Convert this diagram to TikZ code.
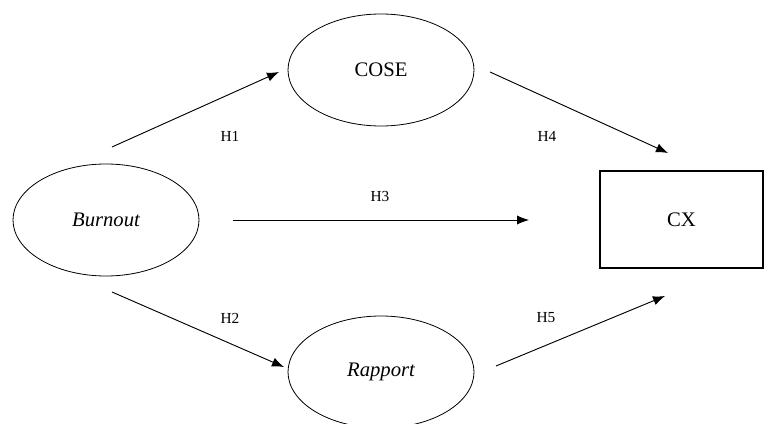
\documentclass[tikz,border=0pt]{standalone}
\usepackage{fontspec}
\setmainfont{Liberation Serif}
\usetikzlibrary{shapes.geometric, arrows.meta}

\tikzset{
    construct/.style={ellipse, draw, semithick, inner sep=0pt, minimum width=186*0.75pt, minimum height=112*0.75pt, font=\fontsize{15.5}{18}\selectfont},
    outcome/.style={rectangle, draw, thick, inner sep=0pt, minimum width=163*0.75pt, minimum height=97*0.75pt, font=\fontsize{15.5}{18}\selectfont},
    path/.style={-{Latex[length=9pt, width=7pt]}, line width=0.7pt},
    hyp/.style={font=\fontsize{11.5}{13}\selectfont}
}

\begin{document}
\begin{tikzpicture}[x=0.75pt, y=-0.75pt]
    \clip (0,0) rectangle (765,424);

    % Draw nodes
    \node[construct] (burnout) at (106,220) {\itshape Burnout};
    \node[construct] (cose) at (381,70) {COSE};
    \node[construct] (rapport) at (381,372) {\itshape Rapport};
    \node[outcome] (cx) at (681.5,219.5) {CX};

    % Arrow ends
    \coordinate (h1s) at (112,147);
    \coordinate (h1e) at (279,72);
    \coordinate (h2s) at (112,292);
    \coordinate (h2e) at (284,367);
    \coordinate (h3s) at (233,220);
    \coordinate (h3e) at (529,220);
    \coordinate (h4s) at (490,72);
    \coordinate (h4e) at (668,153);
    \coordinate (h5s) at (496,366);
    \coordinate (h5e) at (665,296);

    % Draw connections
    \draw[path] (h1s) -- (h1e);
    \draw[path] (h2s) -- (h2e);
    \draw[path] (h3s) -- (h3e);
    \draw[path] (h4s) -- (h4e);
    \draw[path] (h5s) -- (h5e);

    % Labels
    \node[hyp] (lh1) at (230,136) {H1};
    \node[hyp] (lh2) at (230,318) {H2};
    \node[hyp] (lh3) at (380,196) {H3};
    \node[hyp] (lh4) at (547,136) {H4};
    \node[hyp] (lh5) at (546,318) {H5};
\end{tikzpicture}
\end{document}
